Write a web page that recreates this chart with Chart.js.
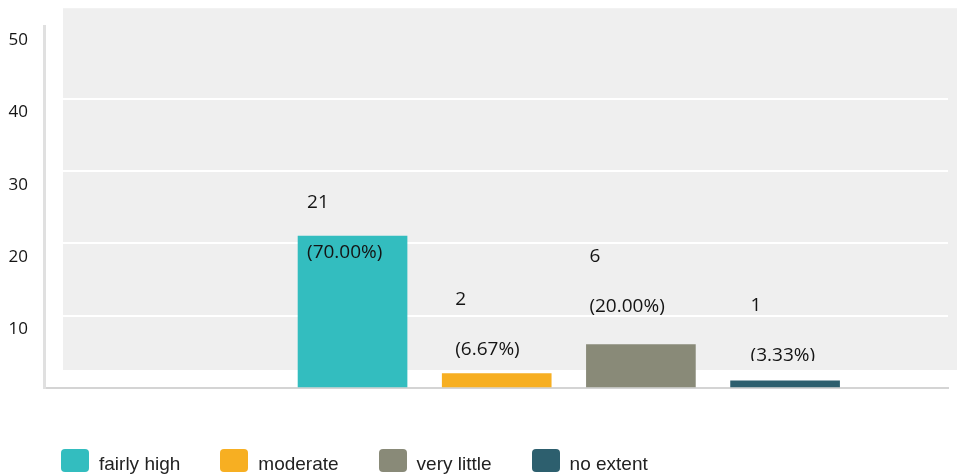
<!DOCTYPE html>
<html>
<head>
<meta charset="utf-8">
<script src="https://cdn.jsdelivr.net/npm/chart.js"></script>
<style>
  body { margin: 0; background: #fff; }
  #wrap { position: relative; width: 957px; height: 476px; }
  #legend {
    position: absolute; left: 61px; top: 449px;
    display: flex; font: 19px "Liberation Sans", Arial, sans-serif; color: #222;
  }
  #legend .item { display: flex; align-items: flex-start; margin-right: 40px; }
  #legend .box { width: 28px; height: 23px; border-radius: 4px; margin-right: 10px; }
  #legend .txt { line-height: 23px; position: relative; top: 3px; white-space: nowrap; }
</style>
</head>
<body>
<div id="wrap">
  <canvas id="chart"></canvas>
  <div id="legend"></div>
</div>
<script>
const categories = ['fairly high', 'moderate', 'very little', 'no extent'];
const counts = [21, 2, 6, 1];
const barColors = ['#33bdbf', '#f7af22', '#898a78', '#2d5f6e'];
const yTickValues = [0, 10, 20, 30, 40, 50];

const total = counts.reduce((a, b) => a + b, 0);

// light grey panel behind the plot, set a little up and to the right
const panel = {
  id: 'panel',
  beforeDraw(chart) {
    const { ctx, chartArea: a, width } = chart;
    ctx.save();
    ctx.fillStyle = '#efefef';
    ctx.fillRect(a.left + 19, a.top - 18, width - a.left - 19, a.bottom - a.top);
    ctx.restore();
  }
};

// count and percentage written above each bar
const barText = {
  id: 'barText',
  afterDatasetsDraw(chart, args, opts) {
    const { ctx, chartArea: a } = chart;
    ctx.save();
    ctx.beginPath();
    ctx.rect(0, 0, chart.width, a.bottom - 27);
    ctx.clip();
    ctx.font = '19px "Open Sans", sans-serif';
    ctx.fillStyle = '#141414';
    ctx.textAlign = 'left';
    ctx.textBaseline = 'middle';
    chart.data.datasets.forEach((ds, i) => {
      const bar = chart.getDatasetMeta(i).data[0];
      const v = ds.data[0].y;
      const n = opts.nudge[i];
      const x = bar.x - bar.width / 2 + n.dx;
      const y = bar.y - n.lift;
      ctx.fillText(String(v), x, y);
      ctx.fillText('(' + (v / total * 100).toFixed(2) + '%)', x, y + 50);
    });
    ctx.restore();
  }
};

const chart = new Chart(document.getElementById('chart'), {
  type: 'bar',
  data: {
    datasets: categories.map((c, i) => ({
      label: c,
      data: [{ x: i, y: counts[i] }],
      backgroundColor: barColors[i],
      borderWidth: 0,
      barThickness: 109,
      grouped: false
    }))
  },
  options: {
    responsive: true,
    maintainAspectRatio: false,
    animation: false,
    layout: { padding: { top: 26, right: 9, bottom: 88, left: 8 } },
    scales: {
      x: {
        type: 'linear',
        offset: false,
        min: -2.14,
        max: 4.13,
        z: 1,
        ticks: { display: false },
        grid: { display: false, drawTicks: false },
        border: { display: true, color: '#d4d4d4', width: 2 }
      },
      y: {
        min: 0,
        max: 50,
        afterBuildTicks: s => { s.ticks = yTickValues.map(v => ({ value: v })); },
        afterFit: s => { s.width = 36; },
        ticks: {
          padding: 16,
          labelOffset: 14,
          color: '#141414',
          font: { family: '"Open Sans", sans-serif', size: 17 },
          callback: v => (v === 0 ? '' : String(v))
        },
        grid: {
          drawTicks: false,
          lineWidth: 2,
          color: c => (c.tick && c.tick.value > 0 && c.tick.value < 50 ? '#ffffff' : 'rgba(0,0,0,0)')
        },
        border: { display: true, color: '#e0e0e0', width: 3 }
      }
    },
    plugins: {
      legend: { display: false },
      tooltip: { enabled: false },
      barText: {
        nudge: [
          { dx: 9, lift: 33 },
          { dx: 13, lift: 74 },
          { dx: 3, lift: 88 },
          { dx: 20, lift: 75 }
        ]
      }
    }
  },
  plugins: [panel, barText]
});

// legend row under the plot
const legend = document.getElementById('legend');
chart.data.datasets.forEach(ds => {
  const item = document.createElement('div');
  item.className = 'item';
  const box = document.createElement('span');
  box.className = 'box';
  box.style.background = ds.backgroundColor;
  const txt = document.createElement('span');
  txt.className = 'txt';
  txt.textContent = ds.label;
  item.append(box, txt);
  legend.appendChild(item);
});
</script>
</body>
</html>
